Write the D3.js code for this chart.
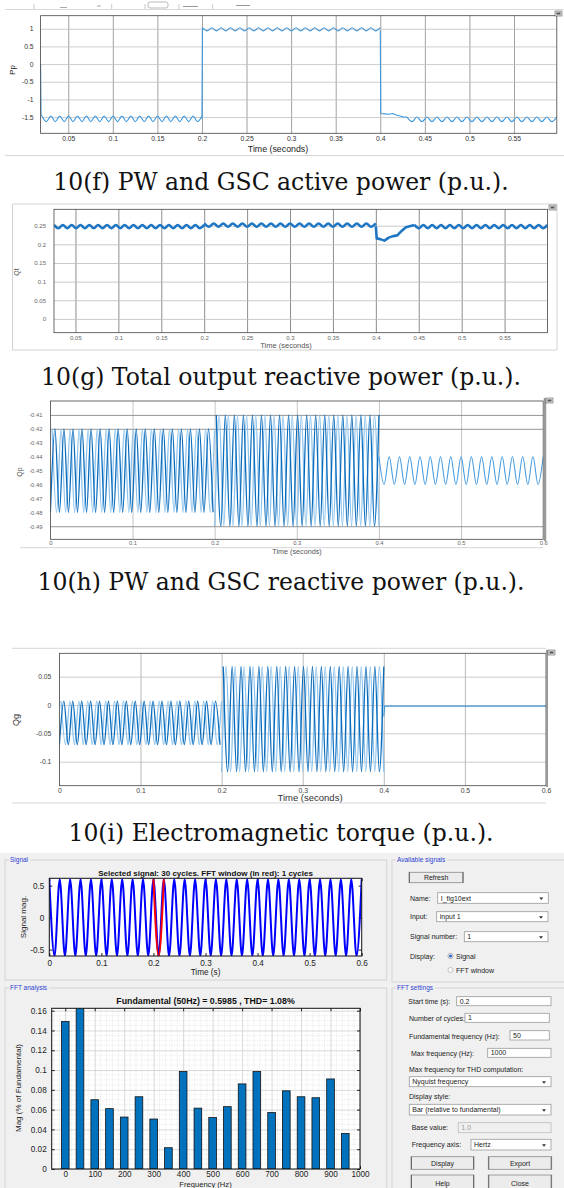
<!DOCTYPE html>
<html><head><meta charset="utf-8">
<script src="https://cdn.jsdelivr.net/npm/d3@7"></script>
<style>
body{margin:0;background:#fff}
svg{display:block}
text{font-family:"Liberation Sans",Arial,sans-serif}
.cap{font-family:"DejaVu Serif","Liberation Serif",serif}
</style>
</head><body>
<svg id="c" width="564" height="1188"></svg>
<script>
// ================= DATA =================
const captions = [
  "10(f) PW and GSC active power (p.u.).",
  "10(g) Total output reactive power (p.u.).",
  "10(h) PW and GSC reactive power (p.u.).",
  "10(i) Electromagnetic torque (p.u.)."
];
// Panel f (active power)
const fTicksX = [0.05,0.1,0.15,0.2,0.25,0.3,0.35,0.4,0.45,0.5,0.55];
const fTicksY = [1,0.5,0,-0.5,-1,-1.5];
// wave segments: [t0, t1, cycles, high, low, startLow]
const fWaves = [[0.0205,0.2,18,-1.47,-1.63,0],[0.2005,0.4,19,1.03,0.94,0],[0.43,0.598,15,-1.50,-1.63,0]];
const fLines = [
  [[0.019,0.0],[0.0195,-1.44],[0.0205,-1.47]],
  [[0.2,-1.55],[0.2005,1.03]],
  [[0.4,0.95],[0.4005,-1.40],[0.405,-1.41],[0.41,-1.42],[0.414,-1.40],[0.418,-1.44],[0.422,-1.47],[0.426,-1.50],[0.43,-1.50]]
];
// Panel g (total reactive power)
const gTicksX = [0.05,0.1,0.15,0.2,0.25,0.3,0.35,0.4,0.45,0.5,0.55];
const gTicksY = [0.25,0.2,0.15,0.1,0.05,0];
const gWaves = [[0.025,0.2,17,0.252,0.243,0],[0.2,0.4,18,0.256,0.247,0],[0.445,0.6,15,0.252,0.243,0]];
const gLines = [[[0.4,0.248],[0.401,0.216],[0.405,0.214],[0.41,0.210],[0.415,0.218],[0.42,0.222],[0.425,0.224],[0.43,0.236],[0.435,0.246],[0.445,0.252]]];
// Panel h (PW and GSC reactive power)
const hTicksX = [0,0.1,0.2,0.3,0.4,0.5,0.6];
const hTicksY = [-0.41,-0.42,-0.43,-0.44,-0.45,-0.46,-0.47,-0.48,-0.49];
const hGridY = [-0.41,-0.42,-0.49];
const hWavesLight = [[0.002,0.2,18,-0.42,-0.48,0],[0.2,0.4,18,-0.41,-0.49,1]];
const hWavesDark  = [[0,0.198,18,-0.42,-0.48,1],[0.202,0.4,18,-0.41,-0.49,0]];
const hWavesTail  = [[0.4,0.6,16,-0.44,-0.46,0]];
// Panel i (electromagnetic torque)
const iTicksX = [0,0.1,0.2,0.3,0.4,0.5,0.6];
const iTicksY = [0.05,0,-0.05,-0.1];
const iWavesLight = [[0.002,0.2,18,0.007,-0.07,0],[0.2,0.4,18,0.068,-0.118,1]];
const iWavesDark  = [[0,0.198,18,0.007,-0.07,1],[0.202,0.4,18,0.068,-0.118,0]];
const iLines = [[[0.4,-0.02],[0.401,-0.002],[0.6,-0.002]]];
// Signal window
const sigTicksX = [0,0.1,0.2,0.3,0.4,0.5,0.6];
const sigTicksY = [0.5,0,-0.5];
const sigWave = [[0,0.6,30,0.6,-0.6,0]];
const sigRed = [[0.2,0.22,1,0.6,-0.6,0]];
// FFT
const fftFreq = [0,50,100,150,200,250,300,350,400,450,500,550,600,650,700,750,800,850,900,950];
const fftMag  = [0.149,0.166,0.070,0.061,0.0525,0.073,0.0505,0.0215,0.0985,0.0615,0.052,0.063,0.086,0.0985,0.057,0.079,0.073,0.072,0.091,0.036];
const fftTicksX = [0,100,200,300,400,500,600,700,800,900,1000];
const fftTicksY = [0,0.02,0.04,0.06,0.08,0.1,0.12,0.14,0.16];
const fftTitle = "Fundamental (50Hz) = 0.5985 , THD= 1.08%";
const sigTitle = "Selected signal: 30 cycles. FFT window (in red): 1 cycles";

// ================= DRAW =================
const svg = d3.select('#c');
svg.append('rect').attr('width',564).attr('height',1188).attr('fill','#fff');
const defs = svg.append('defs');
let clipN = 0;

function wavePoints(seg){
  const [t0,t1,n,hi,lo,startLo] = seg;
  const half = (t1-t0)/(2*n), pts=[];
  for(let k=0;k<=2*n;k++){
    const even = k%2===0;
    pts.push([t0+k*half, (even !== !!startLo) ? hi : lo]);
  }
  return pts;
}

function panel(c){
  const x = d3.scaleLinear().domain(c.xd).range([c.x0,c.x1]);
  const y = d3.scaleLinear().domain(c.yd).range([c.y1,c.y0]);
  const g = svg.append('g');
  g.append('rect').attr('x',c.x0).attr('y',c.y0).attr('width',c.x1-c.x0).attr('height',c.y1-c.y0).attr('fill','#fff');
  const id = 'cl'+(clipN++);
  defs.append('clipPath').attr('id',id).append('rect').attr('x',c.x0).attr('y',c.y0).attr('width',c.x1-c.x0).attr('height',c.y1-c.y0);
  if(c.minorX){
    g.append('g').selectAll('line').data(c.minorX).join('line')
      .attr('x1',d=>x(d)).attr('x2',d=>x(d)).attr('y1',c.y0).attr('y2',c.y1)
      .attr('stroke','#d4d4d4').attr('stroke-width',0.6).attr('stroke-dasharray','1,1.5');
  }
  if(c.minorY){
    g.append('g').selectAll('line').data(c.minorY).join('line')
      .attr('y1',d=>y(d)).attr('y2',d=>y(d)).attr('x1',c.x0).attr('x2',c.x1)
      .attr('stroke','#d4d4d4').attr('stroke-width',0.6).attr('stroke-dasharray','1,1.5');
  }
  if(c.gridX){
    g.append('g').attr('transform',`translate(0,${c.y1})`)
      .call(d3.axisBottom(x).tickValues(c.gridX).tickSize(-(c.y1-c.y0)).tickFormat(''))
      .call(s=>{s.select('.domain').remove();s.selectAll('line').attr('stroke',c.gridXCol||'#c8c8c8').attr('stroke-width',c.gridW||0.8);});
  }
  if(c.gridY){
    g.append('g').attr('transform',`translate(${c.x0},0)`)
      .call(d3.axisLeft(y).tickValues(c.gridY).tickSize(-(c.x1-c.x0)).tickFormat(''))
      .call(s=>{s.select('.domain').remove();s.selectAll('line').attr('stroke',c.gridYCol||'#c8c8c8').attr('stroke-width',c.gridW||0.8);});
  }
  const fmt = c.fmt || (d=>String(d));
  g.append('g').attr('transform',`translate(${c.x0},0)`)
    .call(d3.axisLeft(y).tickValues(c.ticksY).tickSize(c.tickIn?-3:0).tickPadding(c.padY).tickFormat(fmt))
    .call(s=>{s.select('.domain').remove();
      s.selectAll('text').attr('font-size',c.fsT).attr('fill',c.tcol||'#333').attr('font-family','Liberation Sans, Arial, sans-serif');
      s.selectAll('line').attr('stroke','#222');});
  g.append('g').attr('transform',`translate(0,${c.y1})`)
    .call(d3.axisBottom(x).tickValues(c.ticksX).tickSize(c.tickIn?-3:0).tickPadding(c.padX).tickFormat(fmt))
    .call(s=>{s.select('.domain').remove();
      s.selectAll('text').attr('font-size',c.fsT).attr('fill',c.tcol||'#333').attr('font-family','Liberation Sans, Arial, sans-serif');
      s.selectAll('line').attr('stroke','#222');});
  if(c.tickIn){
    g.append('g').attr('transform',`translate(0,${c.y0})`)
      .call(d3.axisTop(x).tickValues(c.ticksX).tickSize(-3).tickFormat(''))
      .call(s=>{s.select('.domain').remove();s.selectAll('line').attr('stroke','#222');});
    g.append('g').attr('transform',`translate(${c.x1},0)`)
      .call(d3.axisRight(y).tickValues(c.ticksY).tickSize(-3).tickFormat(''))
      .call(s=>{s.select('.domain').remove();s.selectAll('line').attr('stroke','#222');});
  }
  if(c.xlabel) g.append('text').attr('x',c.xlx).attr('y',c.xly).attr('text-anchor','middle')
    .attr('font-size',c.fsL).attr('fill',c.lcol||'#222').text(c.xlabel);
  if(c.ylabel) g.append('text').attr('transform',`translate(${c.ylx},${c.yly}) rotate(-90)`).attr('text-anchor','middle')
    .attr('font-size',c.fsY||c.fsL).attr('fill',c.lcol||'#222').text(c.ylabel);
  const data = g.append('g').attr('clip-path',`url(#${id})`);
  const border = ()=> g.append('rect').attr('x',c.x0).attr('y',c.y0).attr('width',c.x1-c.x0).attr('height',c.y1-c.y0)
      .attr('fill','none').attr('stroke',c.bcol||'#444').attr('stroke-width',c.bw||0.8);
  return {x,y,g,data,border};
}

function drawWaves(p, waves, color, w){
  const line = d3.line().x(d=>p.x(d[0])).y(d=>p.y(d[1])).curve(d3.curveMonotoneX);
  waves.forEach(s=>p.data.append('path').attr('d',line(wavePoints(s))).attr('fill','none')
    .attr('stroke',color).attr('stroke-width',w).attr('stroke-linejoin','round'));
}
function drawLines(p, lines, color, w){
  const line = d3.line().x(d=>p.x(d[0])).y(d=>p.y(d[1]));
  lines.forEach(l=>p.data.append('path').attr('d',line(l)).attr('fill','none')
    .attr('stroke',color).attr('stroke-width',w).attr('stroke-linejoin','round'));
}
function hline(x1,x2,y,col,w){svg.append('line').attr('x1',x1).attr('x2',x2).attr('y1',y).attr('y2',y).attr('stroke',col).attr('stroke-width',w||1);}
function vline(x,y1,y2,col,w){svg.append('line').attr('x1',x).attr('x2',x).attr('y1',y1).attr('y2',y2).attr('stroke',col).attr('stroke-width',w||1);}
function icon(x,y){
  svg.append('rect').attr('x',x).attr('y',y).attr('width',7).attr('height',5).attr('fill','#ddd').attr('stroke','#666').attr('stroke-width',0.6);
  svg.append('rect').attr('x',x+1.5).attr('y',y+1.5).attr('width',4).attr('height',2).attr('fill','#555');
}

// ---- top toolbar strip ----
hline(5,564,9.5,'#d8d8d8',1);
[34,111.7,145,179,212.7].forEach(xx=>vline(xx,4,9,'#bbb',0.8));
hline(60,67,7.5,'#aaa',1); hline(97,101,6,'#aaa',1); hline(183,198,6.5,'#999',1); hline(236,250,5.5,'#999',1);
svg.append('rect').attr('x',148).attr('y',2).attr('width',20).attr('height',6).attr('rx',2).attr('fill','none').attr('stroke','#aaa').attr('stroke-width',0.8);

// ---- Panel f ----
{
  const p = panel({x0:40.6,x1:556.8,y0:15.7,y1:133.3,xd:[0.019,0.598],yd:[-1.96,1.37],
    ticksX:fTicksX,ticksY:fTicksY,gridX:fTicksX,gridY:fTicksY,gridXCol:'#8a8a8a',gridYCol:'#c0c0c0',
    fsT:6.8,padY:7,padX:3,xlabel:'Time (seconds)',xlx:278,xly:152,fsL:8.8,ylabel:'Pp',ylx:15,yly:70,fsY:8});
  drawLines(p,fLines,'#3d97dd',1.1);
  drawWaves(p,fWaves,'#3d97dd',1.1);
  p.border();
  icon(555,11);
  hline(5,564,155.5,'#d6d6d6',1);
}
// ---- Panel g ----
{
  svg.append('rect').attr('x',12.6).attr('y',204).attr('width',544.4).attr('height',146).attr('fill','none').attr('stroke','#c8c8c8').attr('stroke-width',0.8);
  const p = panel({x0:54,x1:547.5,y0:209.3,y1:332.7,xd:[0.025,0.6],yd:[-0.037,0.294],
    ticksX:gTicksX,ticksY:gTicksY,gridX:gTicksX,gridY:gTicksY,gridXCol:'#707070',gridYCol:'#bdbdbd',
    fsT:6,tcol:'#666',padY:8,padX:3,xlabel:'Time (seconds)',xlx:286,xly:348,fsL:7.5,lcol:'#555',ylabel:'Qt',ylx:19,yly:272,fsY:7});
  drawWaves(p,gWaves,'#1f77c4',2.6);
  drawLines(p,gLines,'#1f77c4',2.6);
  p.border();
  icon(549,205);
}
// ---- Panel h ----
{
  const p = panel({x0:50.4,x1:543.2,y0:401,y1:539.3,xd:[0,0.6],yd:[-0.4994,-0.40],
    ticksX:hTicksX,ticksY:hTicksY,gridX:[0.1,0.2,0.3,0.4,0.5],gridY:hGridY,gridXCol:'#b8b8b8',gridYCol:'#7a7a7a',
    fsT:5.8,tcol:'#666',padY:8,padX:2,xlabel:'Time (seconds)',xlx:297,xly:553.5,fsL:7.2,lcol:'#555',ylabel:'Qp',ylx:22,yly:472,fsY:7});
  drawWaves(p,hWavesLight,'#8cc2ec',1.3);
  drawWaves(p,hWavesDark,'#0b6cbc',1.3);
  drawWaves(p,hWavesTail,'#4a9ee0',1.1);
  p.border();
  vline(545,398,541,'#999',2.5);
  icon(546,398);
  hline(20,543,547.7,'#d6d6d6',1);
}
// ---- Panel i ----
{
  hline(12,546,648.3,'#d6d6d6',1);
  const p = panel({x0:59.4,x1:546,y0:653.3,y1:785.7,xd:[0,0.6],yd:[-0.1424,0.0913],
    ticksX:iTicksX,ticksY:iTicksY,gridX:[0.1,0.2,0.3,0.4,0.5],gridY:iTicksY,gridXCol:'#a8a8a8',gridYCol:'#c0c0c0',
    fsT:6.8,tcol:'#444',padY:8,padX:2,xlabel:'Time (seconds)',xlx:310,xly:801,fsL:9.5,lcol:'#333',ylabel:'Qg',ylx:19,yly:720,fsY:9});
  drawWaves(p,iWavesLight,'#8cc2ec',1.3);
  drawWaves(p,iWavesDark,'#0b6cbc',1.3);
  drawLines(p,iLines,'#3d97dd',1.1);
  p.border();
  vline(547,650,787,'#999',2);
  icon(548,650);
  hline(12,546,803,'#d6d6d6',1);
}
// ---- captions ----
[190,385,590,841].forEach((yy,i)=>{
  svg.append('text').attr('class','cap').attr('x',281).attr('y',yy).attr('text-anchor','middle')
    .attr('font-size',23.5).attr('fill','#111').text(captions[i]);
});

// ================= GUI =================
svg.append('rect').attr('x',0).attr('y',853).attr('width',564).attr('height',335).attr('fill','#f0f0f0');
function groupBox(x,y,w,h,label){
  svg.append('rect').attr('x',x).attr('y',y).attr('width',w).attr('height',h).attr('fill','none').attr('stroke','#d4d4d4').attr('stroke-width',1);
  const t = svg.append('text').attr('x',x+5).attr('y',y+2).attr('font-size',6.5).attr('fill','#2d3fd0').text(label);
  const bb = t.node().getBBox();
  svg.append('rect').attr('x',bb.x-1).attr('y',y-1).attr('width',bb.width+2).attr('height',2).attr('fill','#f0f0f0');
  t.raise();
}
groupBox(5,860,381.7,120,'Signal');
groupBox(5,988,381.7,205,'FFT analysis');
groupBox(392,860,180,122,'Available signals');
groupBox(392,988,180,205,'FFT settings');

// ---- Signal plot ----
{
  const p = panel({x0:49.3,x1:361.7,y0:878.3,y1:956,xd:[0,0.6],yd:[-0.6,0.615],
    ticksX:sigTicksX,ticksY:sigTicksY,tickIn:true,fsT:8.2,tcol:'#222',padY:5,padX:4,
    xlabel:'Time (s)',xlx:205.5,xly:974.5,fsL:8.2,ylabel:'Signal mag.',ylx:26,yly:917,fsY:8,bcol:'#111',bw:1});
  drawWaves(p,sigWave,'#0000ff',2);
  drawWaves(p,sigRed,'#ff0000',2);
  p.border();
  svg.append('text').attr('x',205.5).attr('y',876).attr('text-anchor','middle').attr('font-size',8).attr('font-weight','bold').attr('fill','#111').text(sigTitle);
}
// ---- FFT plot ----
{
  const minorX = d3.range(-40,1000,20).filter(v=>v%100!==0);
  const minorY = d3.range(0.005,0.165,0.005).filter(v=>Math.abs(v/0.02-Math.round(v/0.02))>1e-6);
  const p = panel({x0:51.7,x1:360,y0:1008.3,y1:1169,xd:[-46,1000],yd:[0,0.1624],
    ticksX:fftTicksX,ticksY:fftTicksY,gridX:fftTicksX,gridY:fftTicksY,gridXCol:'#cfcfcf',gridYCol:'#cfcfcf',
    minorX:minorX,minorY:minorY,tickIn:true,fsT:8.2,tcol:'#222',padY:5,padX:2.5,
    xlabel:'Frequency (Hz)',xlx:205.5,xly:1186.5,fsL:7.6,ylabel:'Mag (% of Fundamental)',ylx:21,yly:1088,fsY:8,bcol:'#111',bw:1});
  const bw = p.x(13)-p.x(0);
  p.data.selectAll('rect.bar').data(fftFreq).join('rect').attr('class','bar')
    .attr('x',d=>p.x(d)-bw).attr('width',2*bw)
    .attr('y',(d,i)=>p.y(fftMag[i])).attr('height',(d,i)=>p.y(0)-p.y(fftMag[i]))
    .attr('fill','#0072bd').attr('stroke','#111').attr('stroke-width',0.8);
  p.border();
  svg.append('text').attr('x',205.5).attr('y',1004).attr('text-anchor','middle').attr('font-size',8.8).attr('font-weight','bold').attr('fill','#111').text(fftTitle);
}

// ---- controls ----
const F = 7;
function label(x,y,t,col){svg.append('text').attr('x',x).attr('y',y).attr('font-size',F).attr('fill',col||'#222').text(t);}
function box(x1,x2,y1,y2,t,opt){
  opt=opt||{};
  svg.append('rect').attr('x',x1).attr('y',y1).attr('width',x2-x1).attr('height',y2-y1)
    .attr('fill',opt.dis?'#f0f0f0':'#fff').attr('stroke',opt.dis?'#bcbcbc':'#9a9a9a').attr('stroke-width',0.8);
  svg.append('text').attr('x',x1+3).attr('y',(y1+y2)/2+2.5).attr('font-size',F).attr('fill',opt.dis?'#9a9a9a':'#222').text(t);
  if(opt.dd){
    svg.append('path').attr('d',`M${x2-9},${(y1+y2)/2-0.5}h4l-2,2.5z`).attr('fill','#333');
  }
}
function button(x1,x2,y1,y2,t){
  svg.append('rect').attr('x',x1).attr('y',y1).attr('width',x2-x1).attr('height',y2-y1)
    .attr('fill','#ececec').attr('stroke','#8a8a8a').attr('stroke-width',0.8);
  svg.append('line').attr('x1',x1+0.5).attr('x2',x1+0.5).attr('y1',y1).attr('y2',y2).attr('stroke','#555').attr('stroke-width',0.8);
  svg.append('line').attr('x1',x2-0.5).attr('x2',x2-0.5).attr('y1',y1).attr('y2',y2).attr('stroke','#555').attr('stroke-width',0.8);
  svg.append('text').attr('x',(x1+x2)/2).attr('y',(y1+y2)/2+2.5).attr('text-anchor','middle').attr('font-size',F).attr('fill','#222').text(t);
}
button(409,463.3,872.3,882.7,'Refresh');
label(410,900.5,'Name:'); box(437.7,548.3,892.7,903.3,'I_fig10ext',{dd:1});
label(410,919,'Input:'); box(436.7,548,911.7,921.7,'input 1',{dd:1});
label(410,939,'Signal number:'); box(464.3,548,931.7,941.7,'1',{dd:1});
label(410,958.5,'Display:');
svg.append('circle').attr('cx',450.5).attr('cy',956).attr('r',2.6).attr('fill','#fff').attr('stroke','#8a8a8a').attr('stroke-width',0.7);
svg.append('circle').attr('cx',450.5).attr('cy',956).attr('r',1.5).attr('fill','#2a62c8');
label(456,958.5,'Signal');
svg.append('circle').attr('cx',450.5).attr('cy',970).attr('r',2.6).attr('fill','#f8f8f8').attr('stroke','#b0b0b0').attr('stroke-width',0.7);
label(456,972.5,'FFT window');

label(408.3,1003.5,'Start time (s):'); box(456.7,551,996.7,1005.7,'0.2');
label(409,1021,'Number of cycles:'); box(465,549.3,1013.3,1022.3,'1');
label(409,1038.5,'Fundamental frequency (Hz):'); box(510,549.3,1030.7,1040,'50');
label(411,1056,'Max frequency (Hz):'); box(487.7,551,1048.3,1057.3,'1000');
label(409,1072,'Max frequency for THD computation:');
box(409.3,551,1076.7,1086.7,'Nyquist frequency',{dd:1});
label(409,1099,'Display style:');
box(409.3,551,1104.3,1115,'Bar (relative to fundamental)',{dd:1});
label(411.7,1130,'Base value:'); box(458.3,551,1122.7,1132.7,'1.0',{dis:1});
label(411.7,1147,'Frequency axis:'); box(471,551,1139.3,1150,'Hertz',{dd:1});
button(411,474,1156.7,1169.3,'Display');
button(488.3,551.7,1156.7,1169.3,'Export');
button(411,474,1175,1192,'Help');
button(488.3,551.7,1175,1192,'Close');
</script>
</body></html>
